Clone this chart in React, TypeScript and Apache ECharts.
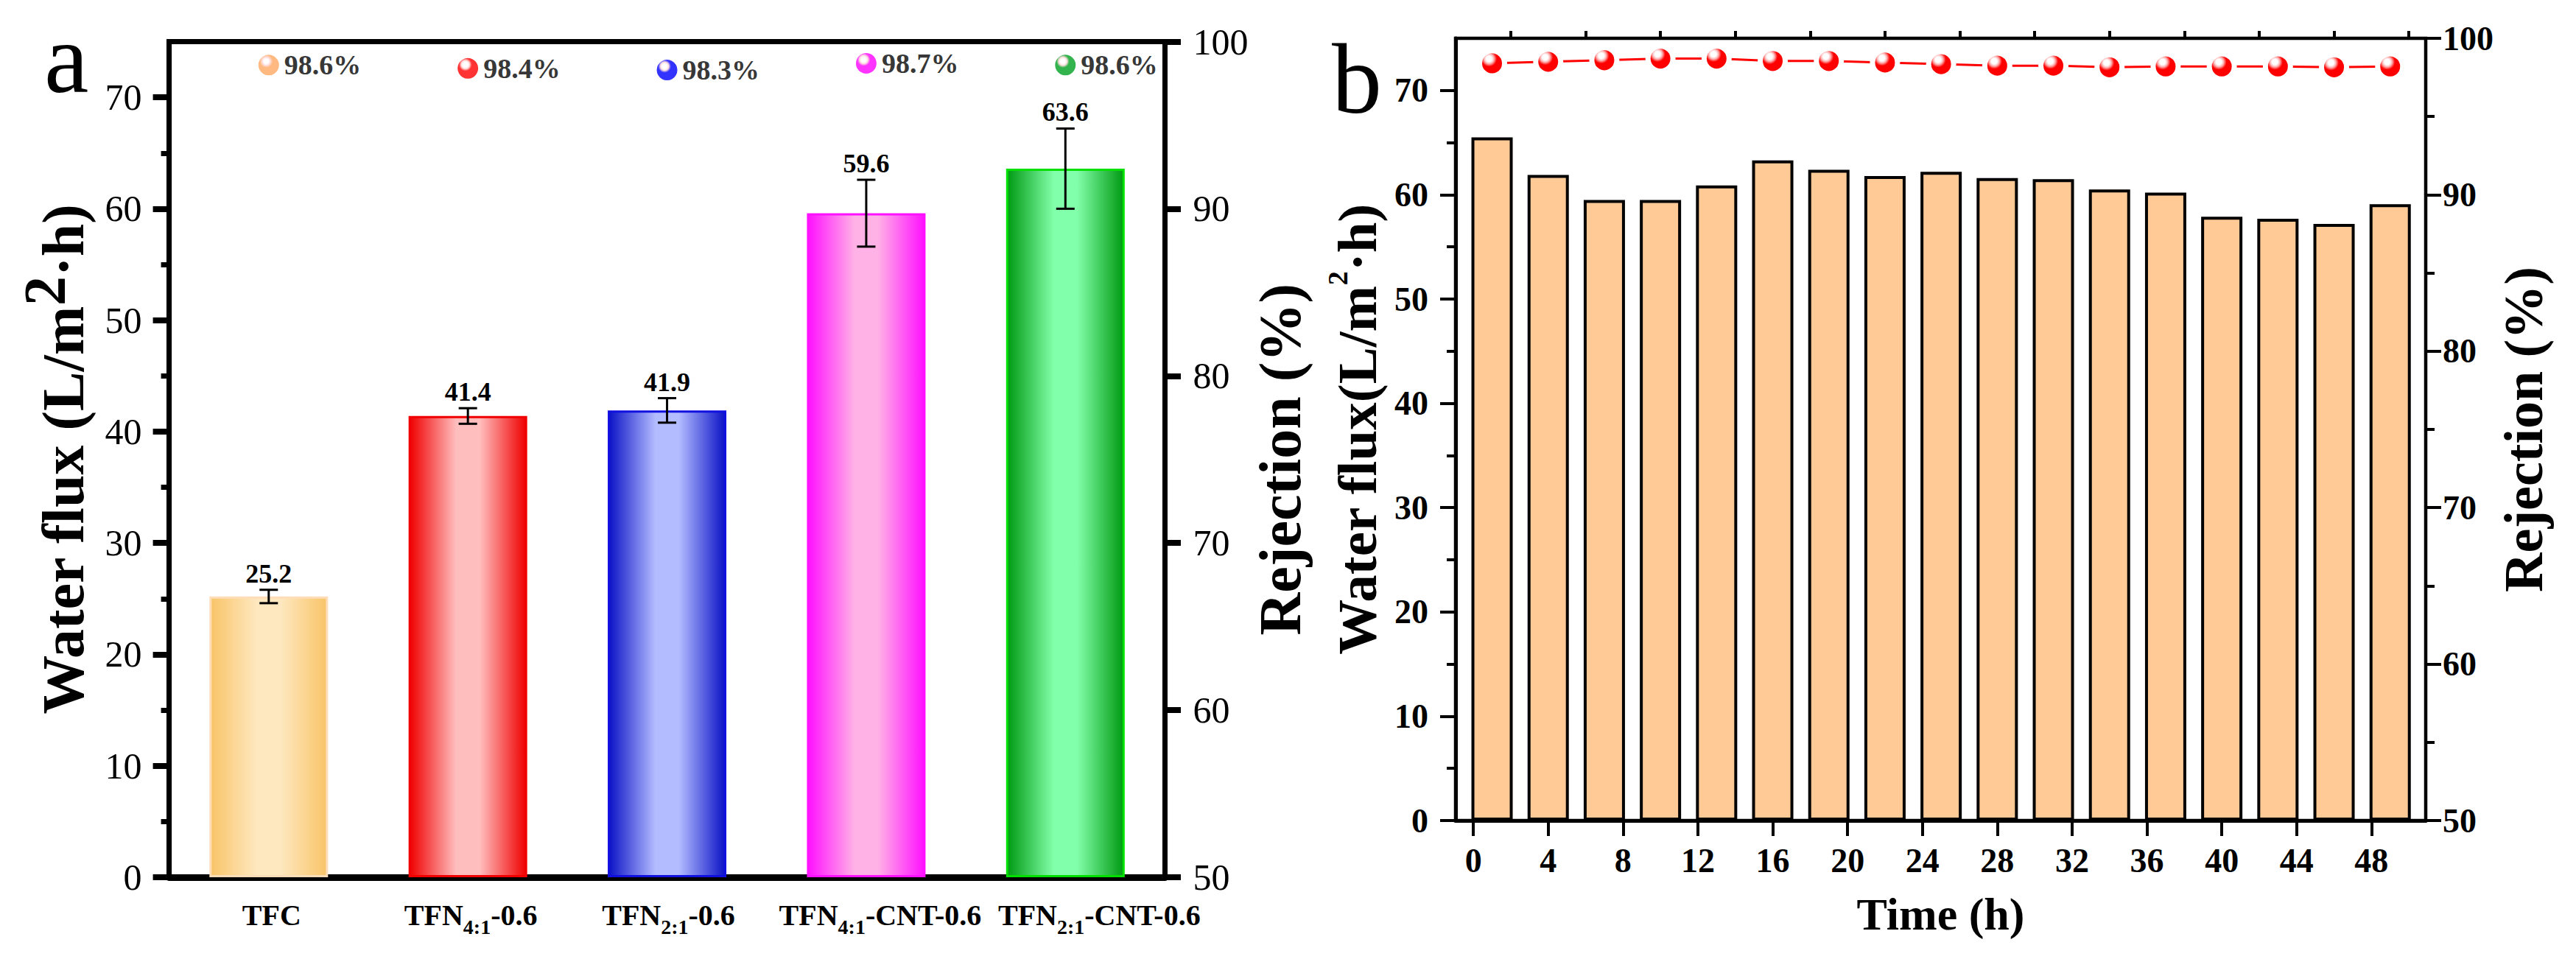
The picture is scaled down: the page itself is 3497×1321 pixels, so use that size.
import React, { useEffect, useRef } from "react";
import * as echarts from "echarts";

const FONT = '"Liberation Serif", "Times New Roman", serif';

// panel a: membranes
const categories = ["TFC", "TFN4:1-0.6", "TFN2:1-0.6", "TFN4:1-CNT-0.6", "TFN2:1-CNT-0.6"];
const fluxValues = [25.2, 41.4, 41.9, 59.6, 63.6];
const fluxErrors = [0.6, 0.7, 1.1, 3.0, 3.6];
const rejectionValues = [98.6, 98.4, 98.3, 98.7, 98.6];
const barEdgeColors = ["#F9C468", "#F00000", "#0B12C6", "#FF10FF", "#009A12"];
const barLightColors = ["#FEE8C0", "#FFBEBE", "#B3BCFF", "#FFB2E6", "#82FFAA"];
const barBorderColors = ["#FFDDB8", "#F00000", "#1010E0", "#FF10FF", "#00E000"];
const markerColors = ["#FFA862", "#FF0000", "#0000FF", "#FF00FF", "#00A020"];

// panel b: long-term run
const timeHours = [1, 4, 7, 10, 13, 16, 19, 22, 25, 28, 31, 34, 37, 40, 43, 46, 49];
const stabilityFlux = [65.5, 61.9, 59.5, 59.5, 60.9, 63.3, 62.4, 61.8, 62.2, 61.6, 61.5, 60.5, 60.2, 57.9, 57.7, 57.2, 59.1];
const stabilityRejection = [98.4, 98.5, 98.6, 98.7, 98.7, 98.55, 98.55, 98.45, 98.35, 98.25, 98.25, 98.15, 98.2, 98.2, 98.2, 98.15, 98.2];

// ticks
const fluxTicks = [0, 10, 20, 30, 40, 50, 60, 70];
const fluxMinorTicks = [5, 15, 25, 35, 45, 55, 65];
const rejectionTicks = [50, 60, 70, 80, 90, 100];
const rejectionMinorTicks = [55, 65, 75, 85, 95];
const timeTicks = [0, 4, 8, 12, 16, 20, 24, 28, 32, 36, 40, 44, 48];
const timeMinorTicks = [2, 6, 10, 14, 18, 22, 26, 30, 34, 38, 42, 46, 50];

// the two long labels sit a little right of their ticks in the original
const labelShift = [8, 8, 4, 38, 92];

const sphere = (base: string, light: string) =>
  new echarts.graphic.RadialGradient(0.38, 0.32, 0.62, [
    { offset: 0, color: "#ffffff" },
    { offset: 0.18, color: "#ffffff" },
    { offset: 0.32, color: light },
    { offset: 0.5, color: base },
    { offset: 1, color: base },
  ]);

const barGradient = (edge: string, light: string) =>
  new echarts.graphic.LinearGradient(0, 0, 1, 0, [
    { offset: 0, color: edge },
    { offset: 0.4, color: light },
    { offset: 0.6, color: light },
    { offset: 1, color: edge },
  ]);

const formatCategory = (name: string) => {
  const m = name.match(/^TFN(\d:\d)(.*)$/);
  if (!m) return `{n|${name}}`;
  return `{n|TFN}{s|${m[1]}}{n|${m[2]}}`;
};

const minorAxis = (gridIndex: number, position: string, min: number, max: number, values: number[], length: number, width: number) => ({
  type: "value",
  gridIndex,
  position,
  min,
  max,
  axisLine: { show: false, onZero: false },
  axisTick: { show: true, customValues: values, length, lineStyle: { color: "#000", width } },
  axisLabel: { show: false },
  splitLine: { show: false },
});

const App: React.FC = () => {
  const chartRef = useRef<HTMLDivElement>(null);

  useEffect(() => {
    document.body.style.margin = "0";
    if (!chartRef.current) return undefined;
    const chart = echarts.init(chartRef.current, undefined, { renderer: "svg" });

    const options: any = {
      animation: false,
      backgroundColor: "#fff",
      textStyle: { fontFamily: FONT, color: "#000" },
      grid: [
        { left: 229.6, right: 1915.5, top: 56.5, bottom: 130, show: true, borderColor: "#000", borderWidth: 7, backgroundColor: "transparent" },
        { left: 1976, right: 204, top: 52, bottom: 207, show: true, borderColor: "#000", borderWidth: 4.5, backgroundColor: "transparent" },
      ],
      graphic: [
        { type: "text", x: 60, y: 79, style: { text: "a", fontSize: 136, fontFamily: FONT, fill: "#000", align: "left", verticalAlign: "middle" } },
        { type: "text", x: 1808, y: 107, style: { text: "b", fontSize: 136, fontFamily: FONT, fill: "#000", align: "left", verticalAlign: "middle" } },
      ],
      xAxis: [
        {
          type: "category",
          gridIndex: 0,
          data: categories.map((c, i) => ({ value: c, textStyle: { padding: [0, 0, 0, labelShift[i]] } })),
          axisLine: { onZero: false, lineStyle: { color: "#000", width: 9 } },
          axisTick: { alignWithLabel: true, length: 22, lineStyle: { color: "#000", width: 8 } },
          axisLabel: {
            interval: 0,
            hideOverlap: false,
            margin: 21,
            formatter: formatCategory,
            rich: {
              n: { fontFamily: FONT, fontWeight: "bold", fontSize: 40, lineHeight: 60, color: "#000" },
              s: { fontFamily: FONT, fontWeight: "bold", fontSize: 28, lineHeight: 24, verticalAlign: "bottom", color: "#000" },
            },
          },
          splitLine: { show: false },
        },
        {
          type: "value",
          gridIndex: 1,
          min: -0.95,
          max: 50.9,
          axisLine: { onZero: false, lineStyle: { color: "#000", width: 5 } },
          axisTick: { show: true, customValues: timeTicks, length: 21, lineStyle: { color: "#000", width: 4 } },
          axisLabel: { customValues: timeTicks, margin: 31, fontFamily: FONT, fontWeight: "bold", fontSize: 46, color: "#000" },
          splitLine: { show: false },
          name: "Time (h)",
          nameLocation: "middle",
          nameGap: 96,
          nameTextStyle: { fontFamily: FONT, fontWeight: "bold", fontSize: 62, color: "#000" },
        },
        {
          type: "value",
          gridIndex: 1,
          min: -0.95,
          max: 50.9,
          axisLine: { show: false, onZero: false },
          axisTick: { show: true, customValues: timeMinorTicks, length: 10, lineStyle: { color: "#000", width: 4 } },
          axisLabel: { show: false },
          splitLine: { show: false },
        },
      ],
      yAxis: [
        {
          type: "value",
          gridIndex: 0,
          position: "left",
          min: 0,
          max: 75,
          axisLine: { show: true, onZero: false, lineStyle: { color: "#000", width: 7 } },
          axisTick: { show: true, customValues: fluxTicks, length: 22, lineStyle: { color: "#000", width: 8 } },
          axisLabel: { customValues: fluxTicks, margin: 37, fontFamily: FONT, fontSize: 50, color: "#000" },
          splitLine: { show: false },
          name: "{n|Water flux (L/m}{s|2}{n|·h)}",
          nameLocation: "middle",
          nameRotate: 90,
          nameGap: 79,
          nameTextStyle: {
            fontFamily: FONT,
            fontWeight: "bold",
            fontSize: 80,
            rich: {
              n: { fontFamily: FONT, fontWeight: "bold", fontSize: 80, lineHeight: 130, color: "#000" },
              s: { fontFamily: FONT, fontWeight: "bold", fontSize: 80, lineHeight: 80, verticalAlign: "top", color: "#000" },
            },
          },
        },
        minorAxis(0, "left", 0, 75, fluxMinorTicks, 11, 7),
        {
          type: "value",
          gridIndex: 0,
          position: "right",
          min: 50,
          max: 100,
          axisLine: { show: true, onZero: false, lineStyle: { color: "#000", width: 7 } },
          axisTick: { show: true, customValues: rejectionTicks, length: 21.5, lineStyle: { color: "#000", width: 8 } },
          axisLabel: { customValues: rejectionTicks, margin: 38, fontFamily: FONT, fontSize: 50, color: "#000" },
          splitLine: { show: false },
          name: "Rejection (%)",
          nameLocation: "middle",
          nameRotate: 90,
          nameGap: 111,
          nameTextStyle: { fontFamily: FONT, fontWeight: "bold", fontSize: 80, color: "#000" },
        },
        {
          type: "value",
          gridIndex: 1,
          position: "left",
          min: 0,
          max: 75,
          axisLine: { show: true, onZero: false, lineStyle: { color: "#000", width: 5 } },
          axisTick: { show: true, customValues: fluxTicks, length: 21, lineStyle: { color: "#000", width: 4 } },
          axisLabel: { customValues: fluxTicks, margin: 37, fontFamily: FONT, fontWeight: "bold", fontSize: 46, color: "#000" },
          splitLine: { show: false },
          name: "{n|Water flux(L/m}{s|2}{n|·h)}",
          nameLocation: "middle",
          nameRotate: 90,
          nameGap: 89,
          nameTextStyle: {
            fontFamily: FONT,
            fontWeight: "bold",
            fontSize: 75,
            rich: {
              n: { fontFamily: FONT, fontWeight: "bold", fontSize: 75, lineHeight: 90, color: "#000" },
              s: { fontFamily: FONT, fontWeight: "bold", fontSize: 38, lineHeight: 38, verticalAlign: "top", color: "#000" },
            },
          },
        },
        minorAxis(1, "left", 0, 75, fluxMinorTicks, 12, 4),
        {
          type: "value",
          gridIndex: 1,
          position: "right",
          min: 50,
          max: 100,
          axisLine: { show: true, onZero: false, lineStyle: { color: "#000", width: 4 } },
          axisTick: { show: true, customValues: rejectionTicks, length: 21, lineStyle: { color: "#000", width: 4 } },
          axisLabel: { customValues: rejectionTicks, margin: 23, fontFamily: FONT, fontWeight: "bold", fontSize: 46, color: "#000" },
          splitLine: { show: false },
          name: "Rejection (%)",
          nameLocation: "middle",
          nameRotate: 90,
          nameGap: 84,
          nameTextStyle: { fontFamily: FONT, fontWeight: "bold", fontSize: 74, color: "#000" },
        },
        minorAxis(1, "right", 50, 100, rejectionMinorTicks, 12, 4),
      ],
      series: [
        {
          type: "bar",
          xAxisIndex: 0,
          yAxisIndex: 0,
          barWidth: 161,
          data: fluxValues.map((v, i) => ({
            value: v,
            itemStyle: {
              color: barGradient(barEdgeColors[i], barLightColors[i]),
              borderColor: barBorderColors[i],
              borderWidth: 3,
            },
          })),
        },
        {
          type: "custom",
          xAxisIndex: 0,
          yAxisIndex: 0,
          z: 4,
          data: fluxValues.map((v, i) => [i, v, fluxErrors[i]]),
          renderItem: (_params: any, api: any) => {
            const idx = api.value(0);
            const val = api.value(1);
            const err = api.value(2);
            const top = api.coord([idx, val + err]);
            const bot = api.coord([idx, val - err]);
            const cap = 12.5;
            const ls = { stroke: "#000", lineWidth: 3 };
            return {
              type: "group",
              children: [
                { type: "line", shape: { x1: top[0], y1: top[1], x2: bot[0], y2: bot[1] }, style: ls },
                { type: "line", shape: { x1: top[0] - cap, y1: top[1], x2: top[0] + cap, y2: top[1] }, style: ls },
                { type: "line", shape: { x1: bot[0] - cap, y1: bot[1], x2: bot[0] + cap, y2: bot[1] }, style: ls },
                {
                  type: "text",
                  x: top[0],
                  y: top[1] - 4,
                  style: {
                    text: val.toFixed(1),
                    fontSize: 36,
                    fontWeight: "bold",
                    fontFamily: FONT,
                    fill: "#000",
                    align: "center",
                    verticalAlign: "bottom",
                  },
                },
              ],
            };
          },
        },
        {
          type: "scatter",
          xAxisIndex: 0,
          yAxisIndex: 2,
          symbol: "circle",
          symbolSize: 28,
          z: 5,
          data: rejectionValues.map((v, i) => ({
            value: v,
            itemStyle: { color: sphere(markerColors[i], "#ffd6d6") },
          })),
          label: {
            show: true,
            position: "right",
            distance: 7,
            formatter: (p: any) => `${Number(p.value).toFixed(1)}%`,
            fontFamily: FONT,
            fontWeight: "bold",
            fontSize: 38,
            color: "#000",
          },
        },
        {
          type: "bar",
          xAxisIndex: 1,
          yAxisIndex: 3,
          barWidth: 56,
          data: timeHours.map((t, i) => [t, stabilityFlux[i]]),
          itemStyle: { color: "#FFCA96", borderColor: "#000", borderWidth: 4 },
        },
        {
          type: "line",
          xAxisIndex: 1,
          yAxisIndex: 5,
          z: 5,
          symbol: "circle",
          symbolSize: 34,
          data: timeHours.map((t, i) => [t, stabilityRejection[i]]),
          lineStyle: { color: "#FF0000", width: 3 },
          itemStyle: { color: sphere("#FF0000", "#FFB0B0"), borderColor: "#fff", borderWidth: 7 },
        },
      ],
    };

    chart.setOption(options);
    return () => {
      chart.dispose();
    };
  }, []);

  return <div ref={chartRef} style={{ width: "3497px", height: "1321px" }} />;
};

export default App;
